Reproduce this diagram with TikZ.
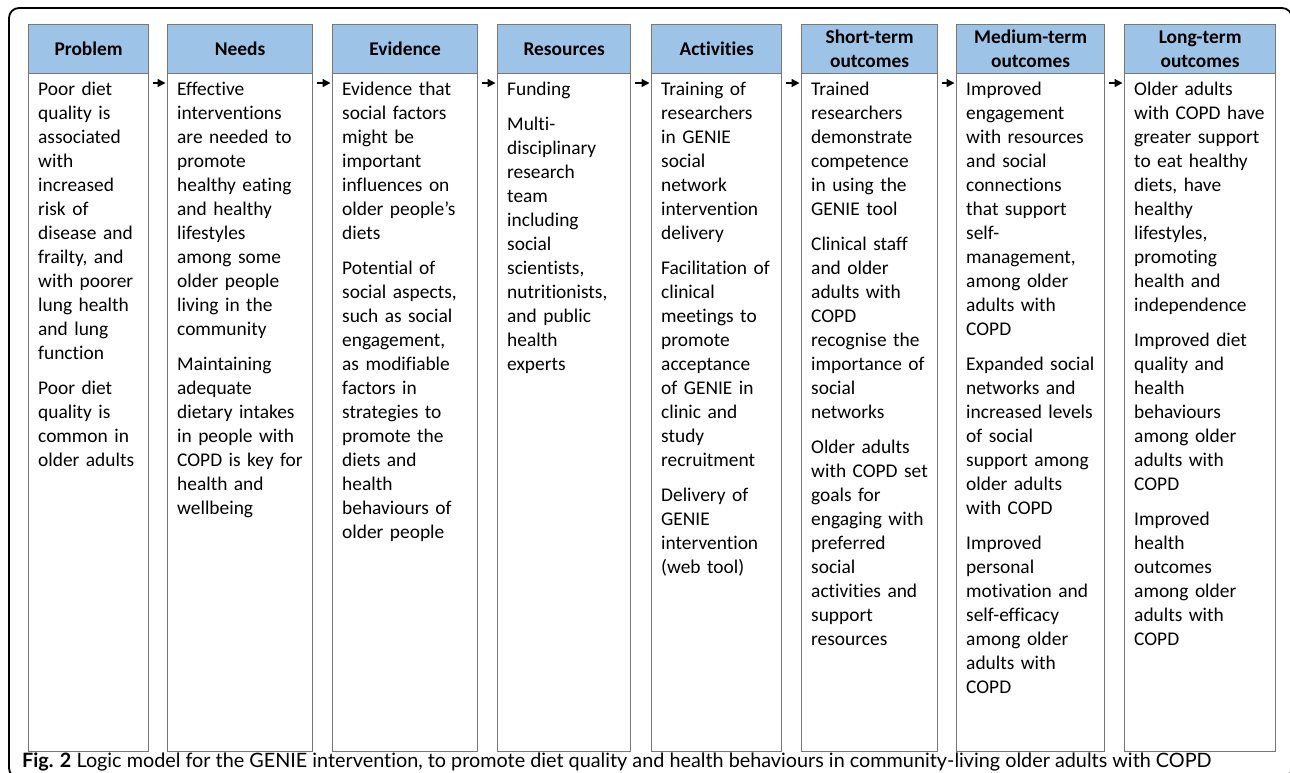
\documentclass[tikz,border=0pt]{standalone}
\usepackage{fontspec}
\setmainfont{Carlito}[Ligatures=NoCommon]
\newfontfamily\capfont{Lato}[Ligatures=NoCommon]
\usetikzlibrary{arrows.meta,calc}
\definecolor{hdrblue}{RGB}{157,195,230}
\definecolor{boxgray}{RGB}{120,120,120}
\begin{document}
\begin{tikzpicture}[x=1pt,y=-1pt,
 hdr/.style={draw=boxgray,line width=1.3pt,fill=hdrblue,minimum height=49pt,inner sep=0pt,anchor=north west,align=center,font=\bfseries\fontsize{19.4}{24}\selectfont},
 body/.style={draw=boxgray,line width=1.3pt,minimum height=678pt,inner sep=0pt,anchor=north west},
 txt/.style={anchor=base west,inner sep=0pt,text width=160pt,align=left,font=\fontsize{19.4}{24}\selectfont},
 arr/.style={-{Triangle[length=8pt,width=8pt]},line width=1.4pt,black},
 frame/.style={draw=black,line width=1.8pt,rounded corners=10pt}]
\useasboundingbox (0,0) rectangle (1290,772);
\begin{scope}
\clip (0,0) rectangle (1290,772);
\draw[frame] (9,8) rectangle (1292,778);
\end{scope}

% headers
\node[hdr,minimum width=120pt] (h1) at (28,24) {Problem};
\node[hdr,minimum width=145pt] (h2) at (167,24) {Needs};
\node[hdr,minimum width=145pt] (h3) at (332,24) {Evidence};
\node[hdr,minimum width=133pt] (h4) at (497,24) {Resources};
\node[hdr,minimum width=130pt] (h5) at (651,24) {Activities};
\node[hdr,minimum width=136pt] (h6) at (801,24) {Short-term\\outcomes};
\node[hdr,minimum width=148pt] (h7) at (956,24) {Medium-term\\outcomes};
\node[hdr,minimum width=151pt] (h8) at (1124,24) {Long-term\\outcomes};

% bodies
\node[body,minimum width=120pt] (b1) at (28,73) {};
\node[body,minimum width=145pt] (b2) at (167,73) {};
\node[body,minimum width=145pt] (b3) at (332,73) {};
\node[body,minimum width=133pt] (b4) at (497,73) {};
\node[body,minimum width=130pt] (b5) at (651,73) {};
\node[body,minimum width=136pt] (b6) at (801,73) {};
\node[body,minimum width=148pt] (b7) at (956,73) {};
\node[body,minimum width=151pt] (b8) at (1124,73) {};

% texts
\node[txt] (t1) at ($(b1.north west)+(10,22)$) {Poor diet\\quality is\\associated\\with\\increased\\risk of\\disease and\\frailty, and\\with poorer\\lung health\\and lung\\function\\[11pt]Poor diet\\quality is\\common in\\older adults};
\node[txt] (t2) at ($(b2.north west)+(10,22)$) {Effective\\interventions\\are needed to\\promote\\healthy eating\\and healthy\\lifestyles\\among some\\older people\\living in the\\community\\[11pt]Maintaining\\adequate\\dietary intakes\\in people with\\COPD is key for\\health and\\wellbeing};
\node[txt] (t3) at ($(b3.north west)+(10,22)$) {Evidence that\\social factors\\might be\\important\\influences on\\older people’s\\diets\\[11pt]Potential of\\social aspects,\\such as social\\engagement,\\as modifiable\\factors in\\strategies to\\promote the\\diets and\\health\\behaviours of\\older people};
\node[txt] (t4) at ($(b4.north west)+(10,22)$) {Funding\\[11pt]Multi-\\disciplinary\\research\\team\\including\\social\\scientists,\\nutritionists,\\and public\\health\\experts};
\node[txt] (t5) at ($(b5.north west)+(10,22)$) {Training of\\researchers\\in GENIE\\social\\network\\intervention\\delivery\\[11pt]Facilitation of\\clinical\\meetings to\\promote\\acceptance\\of GENIE in\\clinic and\\study\\recruitment\\[11pt]Delivery of\\GENIE\\intervention\\(web tool)};
\node[txt] (t6) at ($(b6.north west)+(10,22)$) {Trained\\researchers\\demonstrate\\competence\\in using the\\GENIE tool\\[11pt]Clinical staff\\and older\\adults with\\COPD\\recognise the\\importance of\\social\\networks\\[11pt]Older adults\\with COPD set\\goals for\\engaging with\\preferred\\social\\activities and\\support\\resources};
\node[txt] (t7) at ($(b7.north west)+(10,22)$) {Improved\\engagement\\with resources\\and social\\connections\\that support\\self-\\management,\\among older\\adults with\\COPD\\[11pt]Expanded social\\networks and\\increased levels\\of social\\support among\\older adults\\with COPD\\[11pt]Improved\\personal\\motivation and\\self-efficacy\\among older\\adults with\\COPD};
\node[txt] (t8) at ($(b8.north west)+(10,22)$) {Older adults\\with COPD have\\greater support\\to eat healthy\\diets, have\\healthy\\lifestyles,\\promoting\\health and\\independence\\[11pt]Improved diet\\quality and\\health\\behaviours\\among older\\adults with\\COPD\\[11pt]Improved\\health\\outcomes\\among older\\adults with\\COPD};

% arrows
\draw[arr] ([shift={(4,10)}]b1.north east) -- ([shift={(-1.5,10)}]b2.north west);
\draw[arr] ([shift={(4,10)}]b2.north east) -- ([shift={(-1.5,10)}]b3.north west);
\draw[arr] ([shift={(4,10)}]b3.north east) -- ([shift={(-1.5,10)}]b4.north west);
\draw[arr] ([shift={(4,10)}]b4.north east) -- ([shift={(-1.5,10)}]b5.north west);
\draw[arr] ([shift={(4,10)}]b5.north east) -- ([shift={(-1.5,10)}]b6.north west);
\draw[arr] ([shift={(4,10)}]b6.north east) -- ([shift={(-1.5,10)}]b7.north west);
\draw[arr] ([shift={(4,10)}]b7.north east) -- ([shift={(-1.5,10)}]b8.north west);

% caption
\node[anchor=base west,inner sep=0pt,font=\capfont\fontsize{19.8}{22}\selectfont] (cap) at (22,767) {\textbf{Fig. 2} Logic model for the GENIE intervention, to promote diet quality and health behaviours in community-living older adults with COPD};
\end{tikzpicture}
\end{document}
